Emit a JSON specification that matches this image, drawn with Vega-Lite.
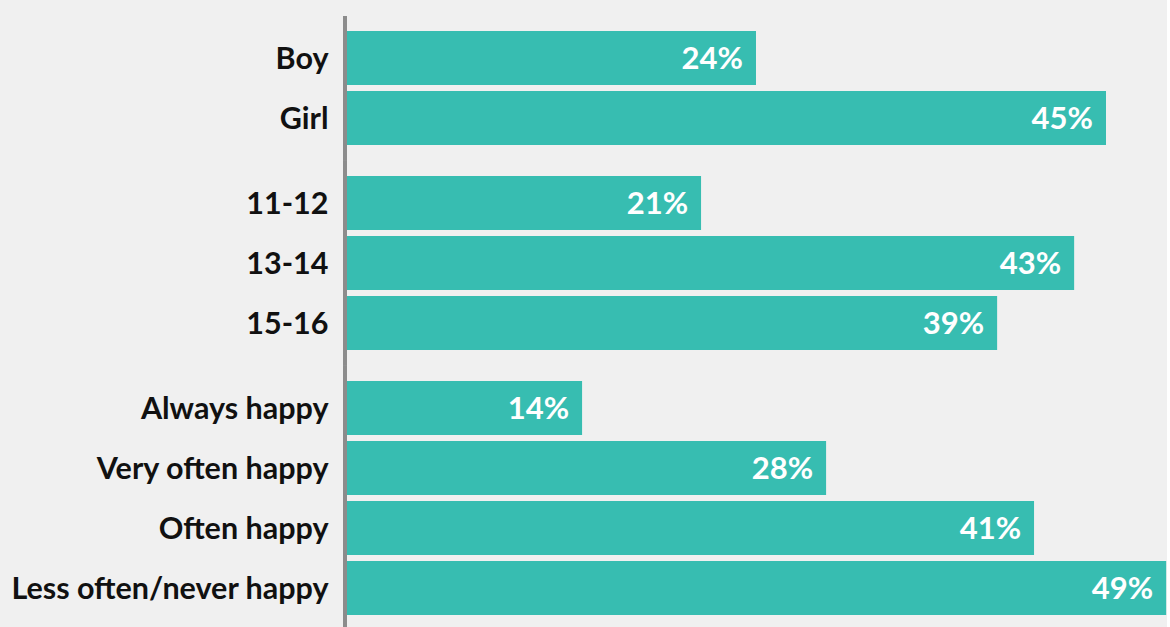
{
  "$schema": "https://vega.github.io/schema/vega-lite/v6.json",
  "padding": {"left": 10, "top": 15.5, "right": 0, "bottom": 0},
  "background": "#f0f0f0",
  "data": {
    "values": [
      {"group": "Gender", "category": "Boy", "share": 0.2427},
      {"group": "Gender", "category": "Girl", "share": 0.4504},
      {"group": "Age", "category": "11-12", "share": 0.2101},
      {"group": "Age", "category": "13-14", "share": 0.4315},
      {"group": "Age", "category": "15-16", "share": 0.3858},
      {"group": "Happiness", "category": "Always happy", "share": 0.1395},
      {"group": "Happiness", "category": "Very often happy", "share": 0.2843},
      {"group": "Happiness", "category": "Often happy", "share": 0.4077},
      {"group": "Happiness", "category": "Less often/never happy", "share": 0.4861}
    ]
  },
  "facet": {
    "row": {"field": "group", "type": "nominal", "sort": ["Gender", "Age", "Happiness"], "title": null, "header": {"labels": false, "title": null}}
  },
  "spacing": 0,
  "resolve": {"scale": {"y": "independent"}},
  "spec": {
    "width": 820,
    "height": {"step": 60},
    "encoding": {
      "y": {
        "field": "category",
        "type": "nominal",
        "sort": null,
        "scale": {"paddingInner": 0.1, "paddingOuter": 0.258},
        "axis": {
          "title": null,
          "ticks": false,
          "domainColor": "#8c8c8c",
          "domainWidth": 4,
          "offset": 2.5,
          "labelPadding": 16.5,
          "labelOffset": 2,
          "labelFont": "Lato",
          "labelFontWeight": "bold",
          "labelFontSize": 30.5,
          "labelColor": "#111111",
          "labelLimit": 400
        }
      },
      "x": {
        "field": "share",
        "type": "quantitative",
        "scale": {"domain": [0, 0.4866], "nice": false},
        "axis": null
      }
    },
    "layer": [
      {"mark": {"type": "bar", "color": "#37bdb1"}},
      {
        "mark": {"type": "text", "align": "right", "baseline": "middle", "dx": -13, "dy": 2, "color": "#ffffff", "font": "Lato", "fontWeight": "bold", "fontSize": 31},
        "encoding": {"text": {"field": "share", "type": "quantitative", "format": ".0%"}}
      }
    ]
  },
  "config": {"view": {"stroke": null}}
}
